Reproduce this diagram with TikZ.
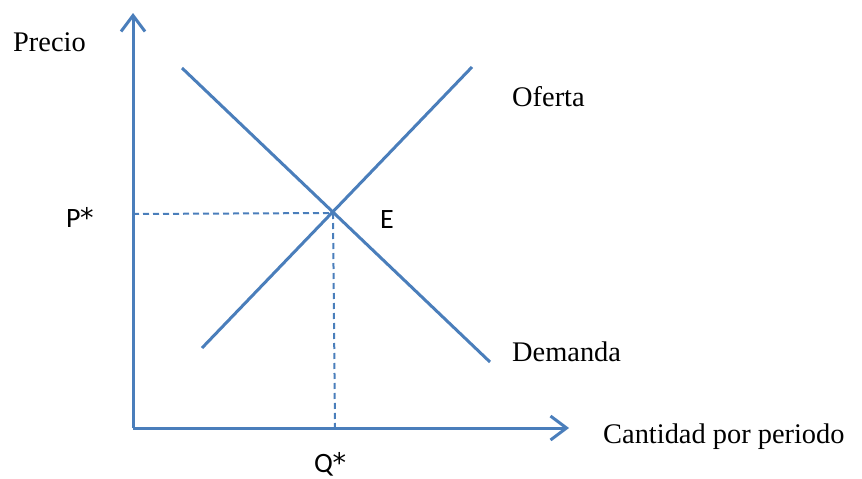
\documentclass[tikz,border=0pt]{standalone}
\usepackage{fontspec}
\setmainfont{Liberation Serif}
\newfontfamily\calib{Carlito}
\newfontfamily\dvs{DejaVu Sans}
\usetikzlibrary{arrows.meta}
\definecolor{lineblue}{HTML}{4A7EBB}
\newcommand{\bigast}{\kern-0.5pt{\dvs\fontsize{27}{27}\selectfont *}}
\begin{document}
\begin{tikzpicture}[x=1pt,y=-1pt,
  curve/.style={draw=lineblue,line width=3pt},
  axis/.style={draw=lineblue,line width=3pt,-{Straight Barb[length=16pt,width=24pt,line width=3pt]}},
  guide/.style={draw=lineblue,line width=2pt,dash pattern=on 6pt off 4pt},
  serlab/.style={anchor=base west,inner sep=0pt,font=\fontsize{28.4}{31}\selectfont},
  sanslab/.style={anchor=base west,inner sep=0pt,font=\calib\fontsize{28}{30}\selectfont}]
\useasboundingbox (0,0) rectangle (862,479);
% coordinates
\coordinate (O) at (133,428);
\coordinate (ytip) at (133,13);
\coordinate (xtip) at (569,428);
\coordinate (d1) at (182,68);
\coordinate (d2) at (490,362);
\coordinate (s1) at (202,348);
\coordinate (s2) at (472,67);
\coordinate (E) at (333,213);
\coordinate (Py) at (133,214);
\coordinate (Qx) at (335,428);
% axes
\draw[axis] (O) -- (ytip);
\draw[axis] (O) -- (xtip);
% guides
\draw[guide] (Py) -- (E);
\draw[guide] (E) -- (Qx);
% curves
\draw[curve] (d1) -- (d2);
\draw[curve] (s1) -- (s2);
% labels
\node[serlab] (precio) at (13,51) {Precio};
\node[serlab] (oferta) at (512,106) {Oferta};
\node[serlab] (demanda) at (512,361) {Demanda};
\node[serlab] (cant) at (603,443) {Cantidad por periodo};
\node[sanslab] (pstar) at (66,227) {P\bigast};
\node[sanslab] (elab) at (380,228) {E};
\node[sanslab] (qstar) at (314,472) {Q\bigast};
\end{tikzpicture}
\end{document}
